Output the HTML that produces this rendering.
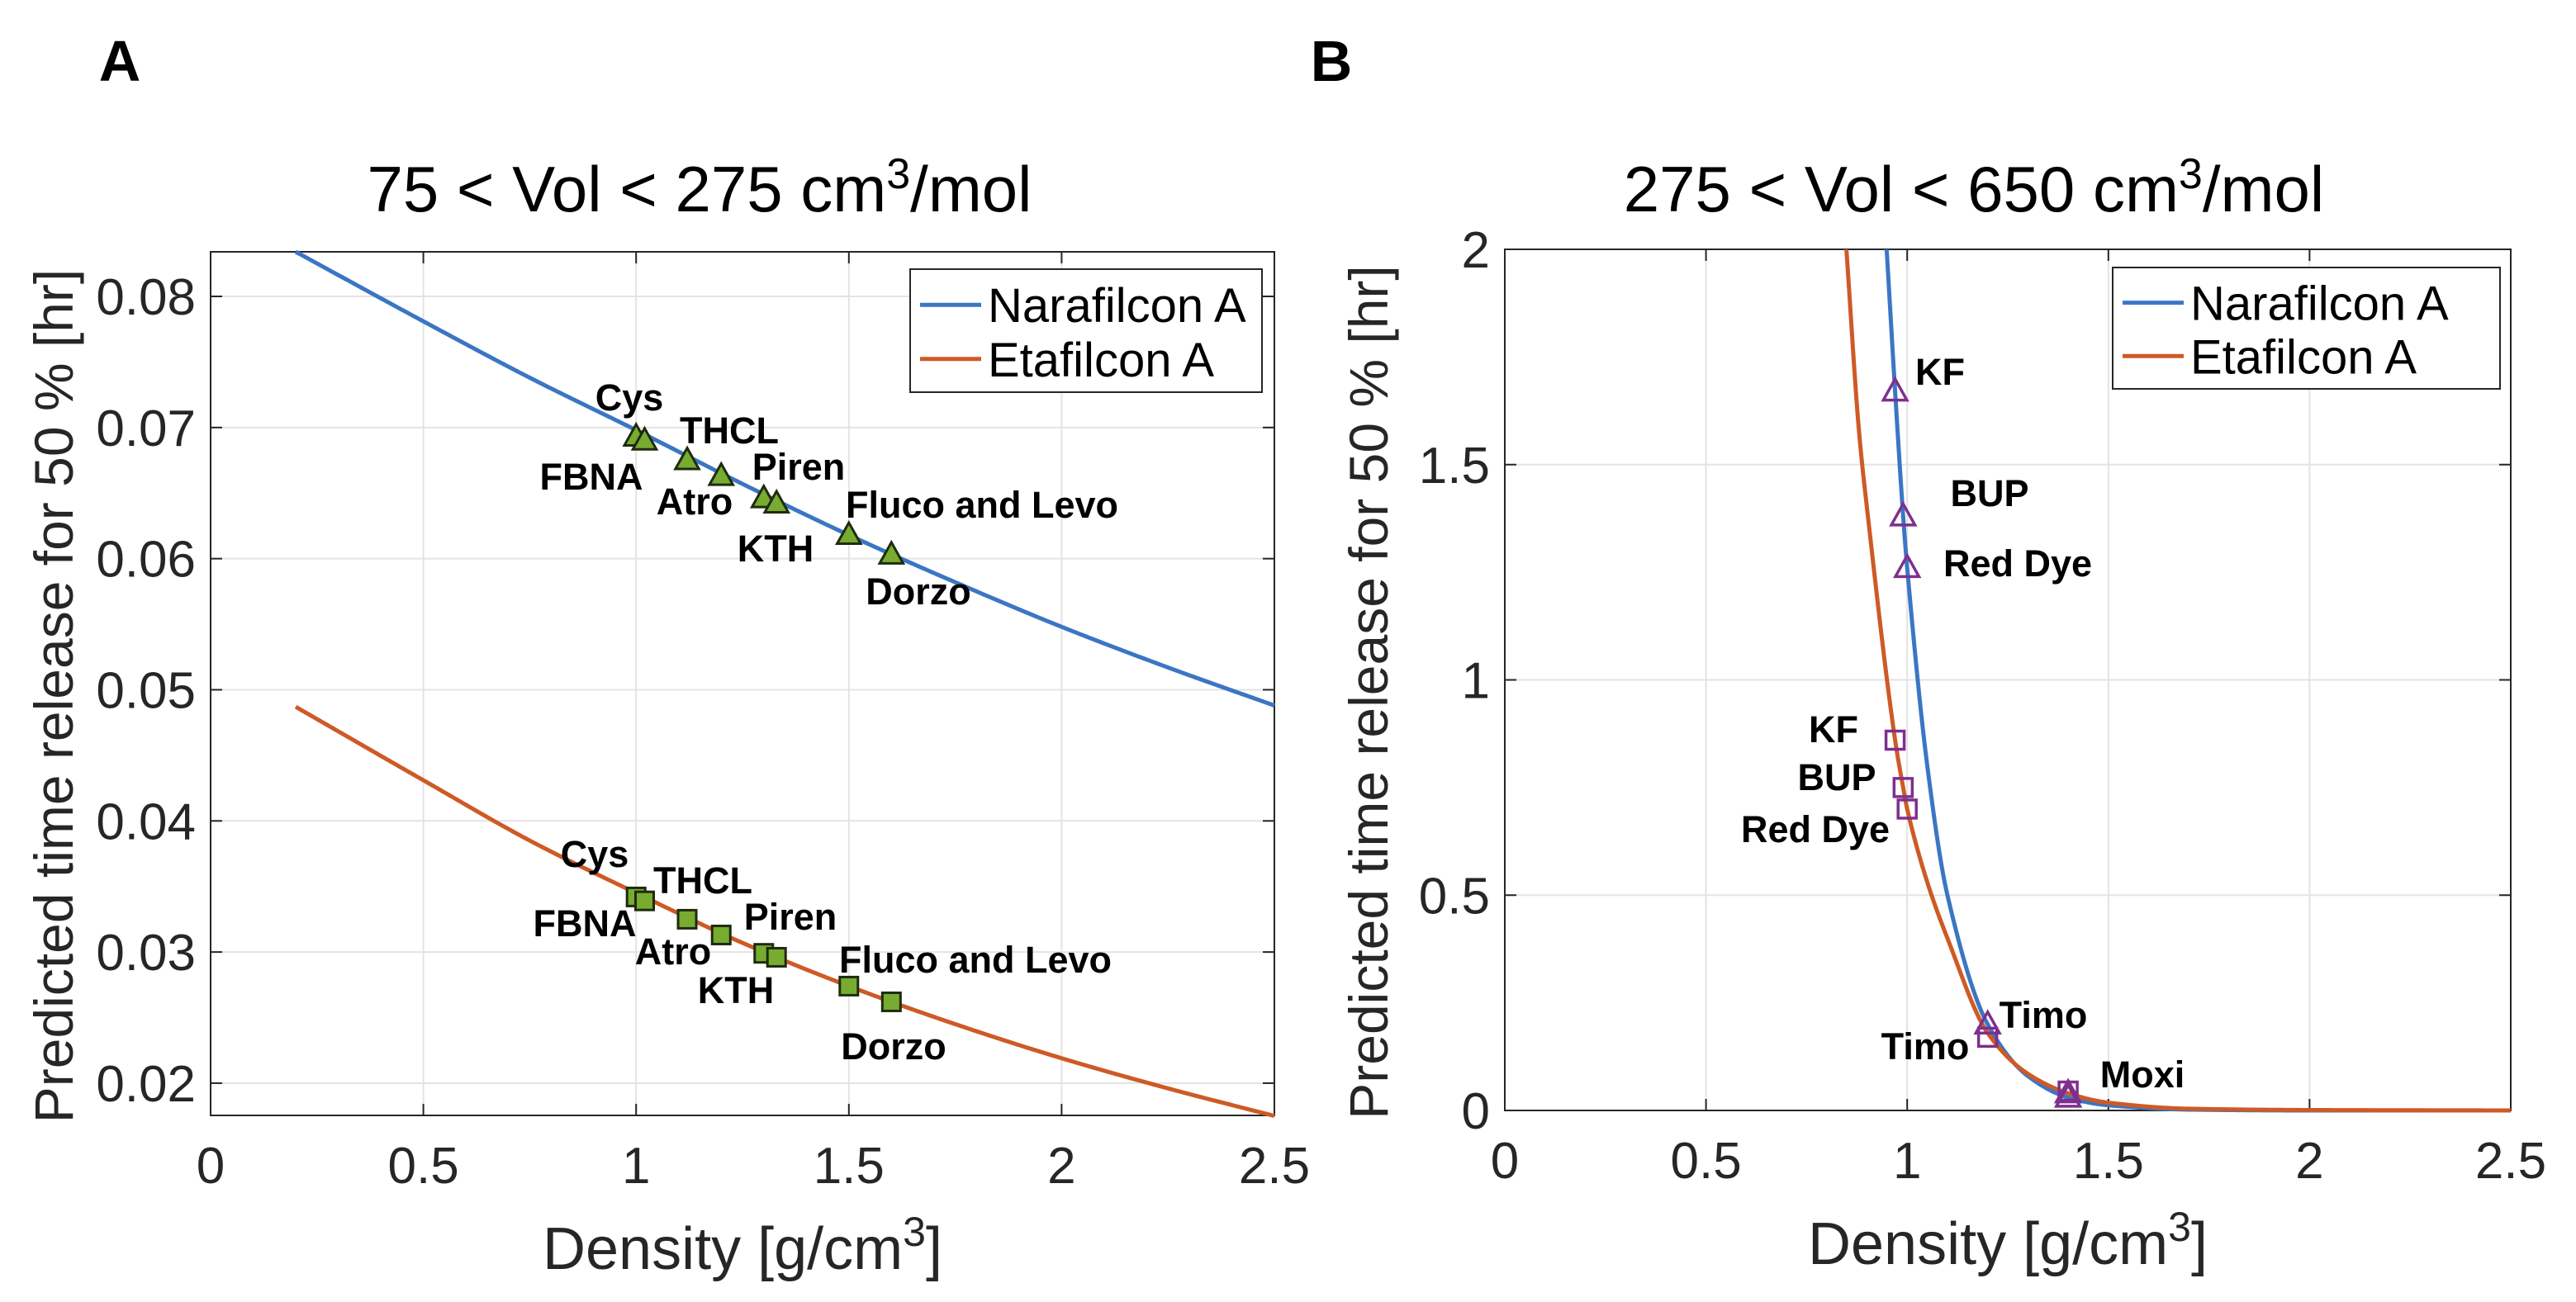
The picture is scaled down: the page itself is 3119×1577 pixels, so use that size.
<!DOCTYPE html>
<html><head><meta charset="utf-8">
<style>
html,body{margin:0;padding:0;background:#fff;}
svg{display:block;font-family:"Liberation Sans",Arial,sans-serif;}
</style></head>
<body>
<svg id="fig" width="3119" height="1577" viewBox="0 0 3119 1577" xmlns="http://www.w3.org/2000/svg">
<text x="145" y="98" font-size="70" font-weight="bold" text-anchor="middle">A</text>
<text x="1612" y="98" font-size="70" font-weight="bold" text-anchor="middle">B</text>
<text x="847" y="256" font-size="78" text-anchor="middle" fill="#000">75 &lt; Vol &lt; 275 cm<tspan font-size="52" dy="-28">3</tspan><tspan dy="28">/mol</tspan></text>
<text x="2390" y="256" font-size="78" text-anchor="middle" fill="#000">275 &lt; Vol &lt; 650 cm<tspan font-size="52" dy="-28">3</tspan><tspan dy="28">/mol</tspan></text>
<g id="pa"></g>
<g id="pb"></g>
</svg>
<script>
// ---------- Panel A data ----------
const aCurveX = [0.2, 0.5, 0.75, 1.0, 1.25, 1.5, 1.75, 2.0, 2.25, 2.5];
const aNara = [0.0834, 0.0781, 0.0738, 0.0698, 0.0657, 0.0618, 0.0582, 0.0548, 0.0517, 0.0488];
const aEta = [0.0487, 0.0431, 0.0385, 0.0345, 0.0307, 0.0274, 0.0245, 0.0219, 0.0196, 0.0175];
const aMarkX = [1.0, 1.02, 1.12, 1.2, 1.3, 1.33, 1.5, 1.6];
const aMarkNara = [0.0693, 0.0690, 0.0675, 0.0663, 0.0646, 0.0642, 0.0618, 0.0603];
const aMarkEta = [0.0342, 0.0339, 0.0325, 0.0313, 0.0299, 0.0296, 0.0274, 0.0262];
const aXTicks = [0, 0.5, 1, 1.5, 2, 2.5];
const aXTickLabels = ["0", "0.5", "1", "1.5", "2", "2.5"];
const aYTicks = [0.02, 0.03, 0.04, 0.05, 0.06, 0.07, 0.08];
const aYTickLabels = ["0.02", "0.03", "0.04", "0.05", "0.06", "0.07", "0.08"];
const aLabelsNara = ["Cys","THCL","FBNA","Atro","Piren","Fluco and Levo","KTH","Dorzo"];
const aLabelsEta = ["Cys","THCL","FBNA","Atro","Piren","Fluco and Levo","KTH","Dorzo"];
// ---------- Panel B data ----------
const bNaraX = [0.949, 0.97, 0.99, 1.0, 1.05, 1.1, 1.2, 1.3, 1.4, 1.5, 1.7, 2.0, 2.5];
const bNaraY = [2.0, 1.67, 1.38, 1.26, 0.80, 0.50, 0.20, 0.08, 0.03, 0.012, 0.002, 0.0, 0.0];
const bEtaX = [0.849, 0.88, 0.9, 0.97, 0.99, 1.0, 1.05, 1.1, 1.2, 1.3, 1.4, 1.5, 1.7, 2.0, 2.5];
const bEtaY = [2.0, 1.58, 1.40, 0.86, 0.75, 0.70, 0.53, 0.40, 0.18, 0.085, 0.04, 0.018, 0.004, 0.001, 0.0];
const bTriX = [0.97, 0.99, 1.0, 1.2, 1.4, 1.4];
const bTriY = [1.67, 1.38, 1.26, 0.20, 0.03, 0.04];
const bSqX = [0.97, 0.99, 1.0, 1.2, 1.4];
const bSqY = [0.86, 0.75, 0.70, 0.17, 0.045];
const bXTicks = [0, 0.5, 1, 1.5, 2, 2.5];
const bXTickLabels = ["0", "0.5", "1", "1.5", "2", "2.5"];
const bYTicks = [0, 0.5, 1, 1.5, 2];
const bYTickLabels = ["0", "0.5", "1", "1.5", "2"];

const NS = "http://www.w3.org/2000/svg";
const BLUE = "#3B76C4", ORANGE = "#CE5A26", GREEN = "#77AC30", PURPLE = "#7E2F8E";
function mk(tag, attrs, parent){ const e = document.createElementNS(NS, tag); for (const k in attrs) e.setAttribute(k, attrs[k]); parent.appendChild(e); return e; }

function monotone(xs, ys){
  const n = xs.length, d = [], m = [];
  for (let i=0;i<n-1;i++) d.push((ys[i+1]-ys[i])/(xs[i+1]-xs[i]));
  m[0]=d[0]; m[n-1]=d[n-2];
  for (let i=1;i<n-1;i++){ m[i] = (d[i-1]*d[i] <= 0) ? 0 : 2/(1/d[i-1]+1/d[i]); }
  return function(x){
    let i=0; while(i<n-2 && x>xs[i+1]) i++;
    const h = xs[i+1]-xs[i], t=(x-xs[i])/h;
    const h00=2*t*t*t-3*t*t+1, h10=t*t*t-2*t*t+t, h01=-2*t*t*t+3*t*t, h11=t*t*t-t*t;
    return h00*ys[i]+h10*h*m[i]+h01*ys[i+1]+h11*h*m[i+1];
  };
}

function axes(g, cfg){
  const sx = v => cfg.x0 + (v-cfg.xmin)/(cfg.xmax-cfg.xmin)*(cfg.x1-cfg.x0);
  const sy = v => cfg.y1 - (v-cfg.ymin)/(cfg.ymax-cfg.ymin)*(cfg.y1-cfg.y0);
  const grid = mk("g", {}, g);
  
  
  cfg.xt.forEach((v,i)=>{
    const X = sx(v);
    mk("line",{x1:X,x2:X,y1:cfg.y0,y2:cfg.y1,stroke:"#e3e3e3","stroke-width":2},grid);
    mk("line",{x1:X,x2:X,y1:cfg.y1,y2:cfg.y1-14,stroke:"#262626","stroke-width":2},g);
    mk("line",{x1:X,x2:X,y1:cfg.y0,y2:cfg.y0+14,stroke:"#262626","stroke-width":2},g);
    const t = mk("text",{x:X,y:cfg.y1+82,"font-size":62,"text-anchor":"middle",fill:"#262626"},g);
    t.textContent = cfg.xtl[i];
    
    
  });
  cfg.yt.forEach((v,i)=>{
    const Y = sy(v);
    mk("line",{x1:cfg.x0,x2:cfg.x1,y1:Y,y2:Y,stroke:"#e3e3e3","stroke-width":2},grid);
    mk("line",{x1:cfg.x0,x2:cfg.x0+14,y1:Y,y2:Y,stroke:"#262626","stroke-width":2},g);
    mk("line",{x1:cfg.x1,x2:cfg.x1-14,y1:Y,y2:Y,stroke:"#262626","stroke-width":2},g);
    const t = mk("text",{x:cfg.x0-18,y:Y+22,"font-size":62,"text-anchor":"end",fill:"#262626"},g);
    t.textContent = cfg.ytl[i];
    
    
  });
  const box = mk("rect",{x:cfg.x0,y:cfg.y0,width:cfg.x1-cfg.x0,height:cfg.y1-cfg.y0,fill:"none",stroke:"#262626","stroke-width":2},g);
  
  
  const xl = mk("text",{x:(cfg.x0+cfg.x1)/2,y:cfg.y1+186,"font-size":72,"text-anchor":"middle",fill:"#262626"},g);
  xl.innerHTML = 'Density [g/cm<tspan font-size="50" dy="-28">3</tspan><tspan dy="28">]</tspan>';
  
  
  const cy = (cfg.y0+cfg.y1)/2 + 15;
  const yl = mk("text",{x:0,y:0,"font-size":66,"text-anchor":"middle",fill:"#262626",transform:`translate(${cfg.ylx},${cy}) rotate(-90)`},g);
  yl.textContent = "Predicted time release for 50 % [hr]";
  
  
  return {sx, sy};
}

function curve(g, f, xa, xb, s, color, name, clipTop){
  let d = "";
  const N = 400;
  for (let i=0;i<=N;i++){
    const x = xa + (xb-xa)*i/N;
    let Y = s.sy(f(x)); if (clipTop!==undefined) Y = Math.max(Y, clipTop);
    d += (i?"L":"M") + s.sx(x).toFixed(2) + "," + Y.toFixed(2);
  }
  const p = mk("path",{d, fill:"none", stroke:color, "stroke-width":5},g);
  
  
}
function tri(g,X,Y,r,fill,stroke,sw){
  return mk("path",{d:`M${X},${Y-r} L${X+r*0.95},${Y+r*0.7} L${X-r*0.95},${Y+r*0.7} Z`,fill,stroke,"stroke-width":sw},g);
}
function sq(g,X,Y,r,fill,stroke,sw){
  return mk("rect",{x:X-r,y:Y-r,width:2*r,height:2*r,fill,stroke,"stroke-width":sw},g);
}
function label(g,txt,X,Y,name){
  const t = mk("text",{x:X,y:Y+16,"font-size":45,"font-weight":"bold","text-anchor":"middle",fill:"#000"},g);
  t.textContent = txt;
  
  
}
function legend(g,x,y,w,h){
  const lg = mk("g",{},g);
  
  
  mk("rect",{x,y,width:w,height:h,fill:"#fff",stroke:"#262626","stroke-width":2},lg);
  const e1 = mk("g",{},lg);
  
  
  mk("line",{x1:x+12,x2:x+86,y1:y+h*0.29,y2:y+h*0.29,stroke:BLUE,"stroke-width":5},e1);
  const t1 = mk("text",{x:x+94,y:y+h*0.29+21,"font-size":58,fill:"#000"},e1); t1.textContent="Narafilcon A";
  const e2 = mk("g",{},lg);
  
  
  mk("line",{x1:x+12,x2:x+86,y1:y+h*0.73,y2:y+h*0.73,stroke:ORANGE,"stroke-width":5},e2);
  const t2 = mk("text",{x:x+94,y:y+h*0.73+21,"font-size":58,fill:"#000"},e2); t2.textContent="Etafilcon A";
}

// ----- Panel A -----
const ga = document.getElementById("pa");
const sa = axes(ga,{x0:255,x1:1543,y0:305,y1:1351,xmin:0,xmax:2.5,ymin:0.01754,ymax:0.0834,xt:aXTicks,xtl:aXTickLabels,yt:aYTicks,ytl:aYTickLabels,ylx:88});
curve(ga, monotone(aCurveX,aNara), aCurveX[0], aCurveX[aCurveX.length-1], sa, BLUE, "narafilcon-curve-a");
curve(ga, monotone(aCurveX,aEta), aCurveX[0], aCurveX[aCurveX.length-1], sa, ORANGE, "etafilcon-curve-a");
aMarkX.forEach((x,i)=>{
  const m = tri(ga, sa.sx(x), sa.sy(aMarkNara[i]), 15, GREEN, "#1f2a10", 3);
  
  
  const q = sq(ga, sa.sx(x), sa.sy(aMarkEta[i]), 11, GREEN, "#1f2a10", 3);
  
  
});
const aLabPosN = [[762,481],[883,521],[716,577],[841,607],[967,565],[1189,611],[939,664],[1112,716]];
const aLabPosE = [[720,1034],[851,1066],[708,1118],[815,1152],[957,1110],[1181,1162],[891,1199],[1082,1267]];
aLabelsNara.forEach((t,i)=>label(ga,t,aLabPosN[i][0],aLabPosN[i][1],"drug-label"));
aLabelsEta.forEach((t,i)=>label(ga,t,aLabPosE[i][0],aLabPosE[i][1],"drug-label"));
legend(ga,1102,326,426,149);

// ----- Panel B -----
const gb = document.getElementById("pb");
const sb = axes(gb,{x0:1822,x1:3040,y0:302,y1:1345,xmin:0,xmax:2.5,ymin:0,ymax:2,xt:bXTicks,xtl:bXTickLabels,yt:bYTicks,ytl:bYTickLabels,ylx:1680});
curve(gb, monotone(bNaraX,bNaraY), bNaraX[0], 2.5, sb, BLUE, "narafilcon-curve-b", 302);
curve(gb, monotone(bEtaX,bEtaY), bEtaX[0], 2.5, sb, ORANGE, "etafilcon-curve-b", 302);
bTriX.forEach((x,i)=>{
  const m = tri(gb, sb.sx(x), sb.sy(bTriY[i]), 15, "none", PURPLE, 3.5);
  
  
});
bSqX.forEach((x,i)=>{
  const m = sq(gb, sb.sx(x), sb.sy(bSqY[i]), 11, "none", PURPLE, 3.5);
  
  
});
[["KF",2349,450],["BUP",2409,597],["Red Dye",2443,682],["KF",2220,883],["BUP",2224,941],["Red Dye",2198,1004],["Timo",2474,1229],["Timo",2331,1267],["Moxi",2594,1301]]
  .forEach(a=>label(gb,a[0],a[1],a[2],"drug-label"));
legend(gb,2558,324,469,147);
</script>
</body></html>
